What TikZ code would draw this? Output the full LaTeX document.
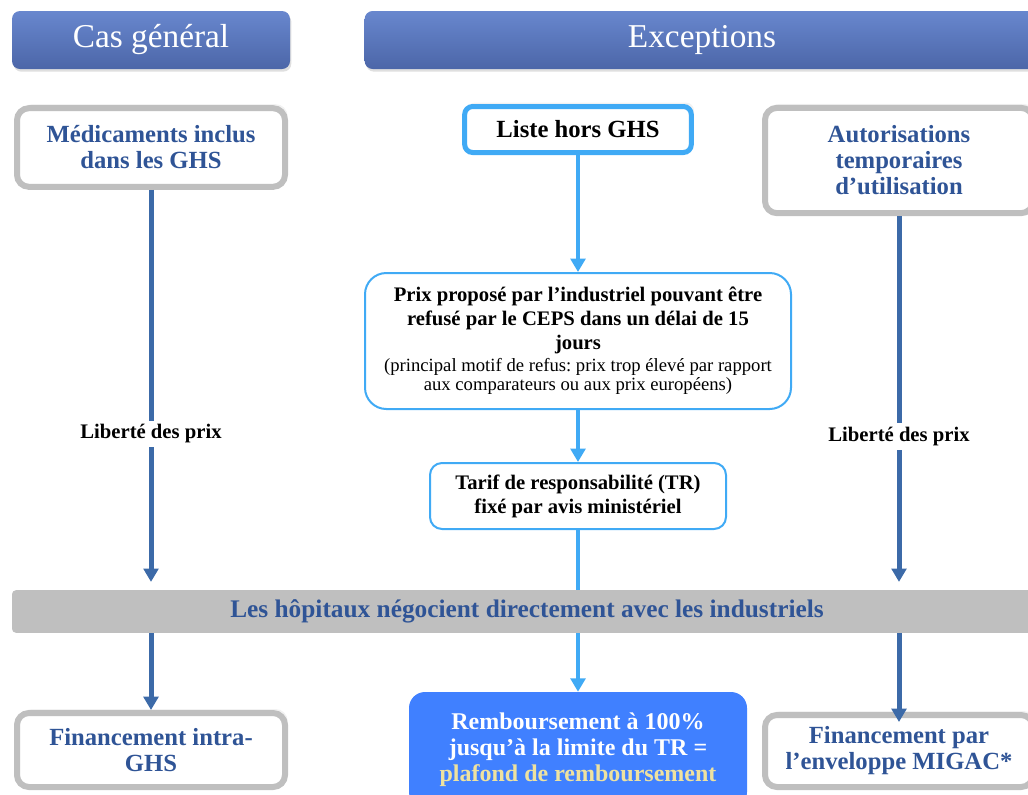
\documentclass[tikz,border=0pt]{standalone}
\usepackage{fontspec}
\setmainfont{Liberation Serif}
\usetikzlibrary{arrows.meta,shadows}
\definecolor{headtop}{RGB}{104,135,206}
\definecolor{headbot}{RGB}{76,102,168}
\definecolor{ghsblue}{RGB}{47,84,150}
\definecolor{darkarrow}{RGB}{60,106,168}
\definecolor{lightarrow}{RGB}{64,170,245}
\definecolor{boxgray}{RGB}{191,191,191}
\definecolor{rembblue}{RGB}{64,128,255}
\definecolor{plafond}{RGB}{238,226,160}
\newcommand{\motiffont}{\mdseries\fontsize{14}{15}\selectfont}
\begin{document}
\frenchspacing
\begin{tikzpicture}[x=0.75pt, y=-0.75pt,
            head/.style={rectangle, rounded corners=6pt, top color=headtop, bottom color=headbot, text=white, font=\fontsize{25}{29}\selectfont, minimum height=43.5pt, drop shadow={opacity=0.25, shadow xshift=1pt, shadow yshift=-2pt}},
            graybox/.style={rectangle, rounded corners=9pt, draw=boxgray, line width=4.5pt, fill=white, text=ghsblue, font=\bfseries\fontsize{18.5}{19.5}\selectfont, align=center, minimum width=201pt, drop shadow={opacity=0.1, shadow xshift=2pt, shadow yshift=3pt}},
            listbox/.style={rectangle, rounded corners=6pt, draw=lightarrow, line width=3.75pt, fill=white, font=\bfseries\fontsize{18.5}{19.5}\selectfont, minimum width=170pt, minimum height=34.5pt, drop shadow={opacity=0.1, shadow xshift=2pt, shadow yshift=3pt}},
            thinbox/.style={rectangle, rounded corners=9pt, draw=lightarrow, line width=1.5pt, fill=white, font=\bfseries\fontsize{15.5}{18}\selectfont, align=center},
            darr/.style={draw=darkarrow, line width=3.75pt, -{Triangle[width=11pt,length=10pt]}},
            larr/.style={draw=lightarrow, line width=3.5pt, -{Triangle[width=11pt,length=10pt]}},
            liberte/.style={fill=white, text=black, font=\bfseries\fontsize{15.5}{17}\selectfont, inner sep=3pt},
        ]
            \useasboundingbox (0,0) rectangle (1028,794);
            \clip (0,0) rectangle (1028,794);
            \node(headgen) at (151,40) [head, minimum width=208.5pt] {Cas général};
            \node(headexc) at (702,40) [head, minimum width=506pt] {Exceptions};
            \node(ghsnode) at (151,147.5) [graybox, minimum height=59pt] {Médicaments inclus\\dans les GHS};
            \node(listenode) at (578,129.5) [listbox] {Liste hors GHS};
            \node(atunode) at (899,160.5) [graybox, minimum height=79pt] {Autorisations\\temporaires\\d’utilisation};
            \node(prixnode) at (578,341) [thinbox, rounded corners=16pt, minimum width=319.5pt, minimum height=102pt] {Prix proposé par l’industriel pouvant être\\refusé par le CEPS dans un délai de 15\\jours\\[-2pt]{\motiffont (principal motif de refus: prix trop élevé par rapport}\\[-3.5pt]{\motiffont aux comparateurs ou aux prix européens)}};
            \node(tarifnode) at (578,496) [thinbox, minimum width=222pt, minimum height=49.5pt] {Tarif de responsabilité (TR)\\fixé par avis ministériel};
            \node(barnode) at (527,611.5) [rectangle, rounded corners=3pt, fill=boxgray, text=ghsblue, font=\bfseries\fontsize{19}{20}\selectfont, minimum width=772.5pt, minimum height=32pt] {Les hôpitaux négocient directement avec les industriels};
            \node(intranode) at (151,750) [graybox, minimum height=55.5pt] {Financement intra-\\GHS};
            \node(rembnode) at (578,750) [rectangle, rounded corners=12pt, fill=rembblue, text=white, font=\bfseries\fontsize{18}{19.5}\selectfont, align=center, minimum width=253.5pt, minimum height=87pt] {Remboursement à 100\%\\jusqu’à la limite du TR =\\{\color{plafond}plafond de remboursement}};
            \node(migacnode) at (899,751) [graybox, minimum height=54pt] {Financement par\\l’enveloppe MIGAC*};
            % fleches
            \draw[darr, shorten >=6pt] (ghsnode.south) -- node[liberte, pos=0.61] {Liberté des prix} (ghsnode.south |- barnode.north);
            \draw[darr, shorten >=6pt] (atunode.south) -- node[liberte, pos=0.59] {Liberté des prix} (atunode.south |- barnode.north);
            \draw[larr] (listenode.south) -- (prixnode.north);
            \draw[larr] (prixnode.south) -- (tarifnode.north);
            \draw[draw=lightarrow, line width=3.5pt] (tarifnode.south) -- (tarifnode.south |- barnode.north);
            \draw[darr] (intranode.north |- barnode.south) -- (intranode.north);
            \draw[larr] (rembnode.north |- barnode.south) -- (rembnode.north);
            \draw[darr, shorten >=-7.5pt] (migacnode.north |- barnode.south) -- (migacnode.north);
        \end{tikzpicture}
\end{document}
